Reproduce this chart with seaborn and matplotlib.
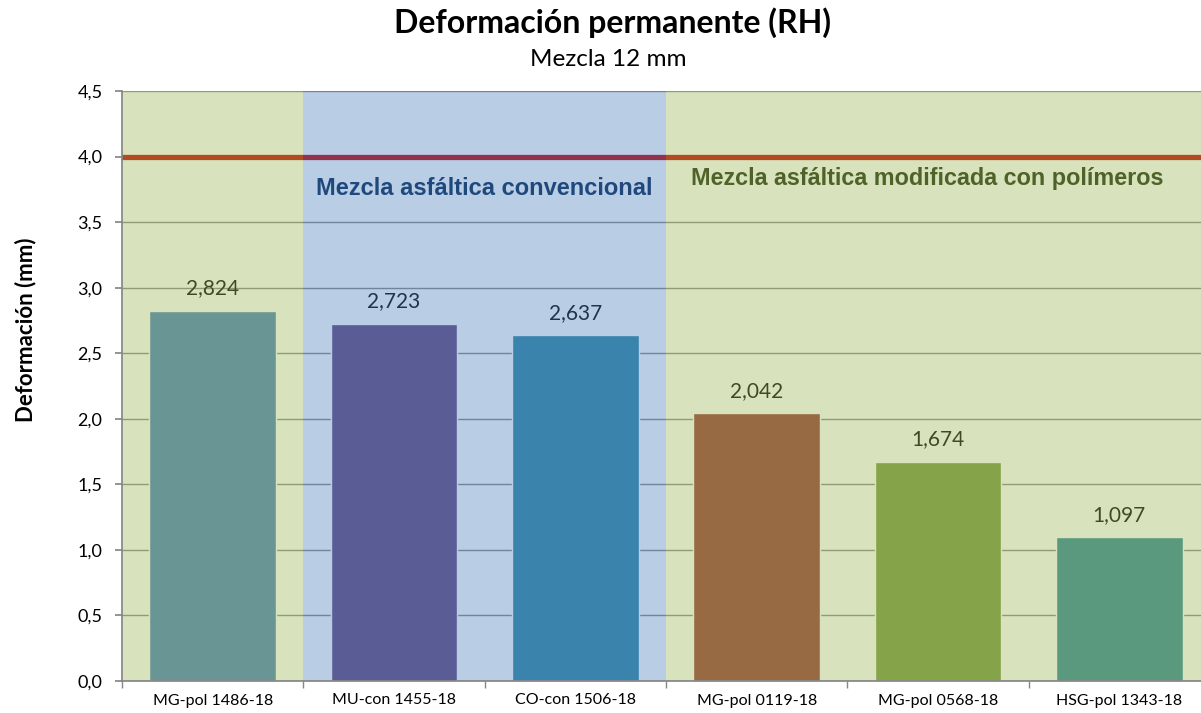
import matplotlib
matplotlib.use('Agg')
import matplotlib.pyplot as plt
import seaborn as sns
from matplotlib.ticker import FuncFormatter, FixedLocator

# data
samples = ['MG-pol 1486-18', 'MU-con 1455-18', 'CO-con 1506-18',
           'MG-pol 0119-18', 'MG-pol 0568-18', 'HSG-pol 1343-18']
deformation = [2.824, 2.723, 2.637, 2.042, 1.674, 1.097]
limit_value = 4.0
groups = ['pol', 'con', 'con', 'pol', 'pol', 'pol']
group_titles = {'con': 'Mezcla asfáltica convencional',
                'pol': 'Mezcla asfáltica modificada con polímeros'}

# bar colours before the translucent group overlay is applied
bar_colors = ['#477EBB', '#61467A', '#2B84A2', '#933534', '#76943E', '#2D8496']
group_fill = {'con': '#5082BE', 'pol': '#9EBB5A'}
group_text = {'con': '#1F497D', 'pol': '#4F6228'}

sns.set_theme(style='white')
plt.rcParams['font.family'] = ['Lato', 'DejaVu Sans']
plt.rcParams['text.color'] = 'black'
plt.rcParams['axes.labelcolor'] = 'black'

fig = plt.figure(figsize=(12.01, 7.13), dpi=100)
ax = fig.add_axes([122 / 1201, 32 / 713, 1088 / 1201, 590 / 713])

sns.barplot(x=samples, y=deformation, hue=samples, palette=bar_colors,
            legend=False, saturation=1, width=0.7, ax=ax, zorder=2)

ax.set_xlim(-0.5, len(samples) - 0.5)
ax.set_ylim(0, 4.5)

# gridlines
ax.yaxis.set_major_locator(FixedLocator([i * 0.5 for i in range(10)]))
ax.yaxis.set_major_formatter(FuncFormatter(lambda v, p: f'{v:.1f}'.replace('.', ',')))
ax.grid(axis='y', color='#868686', lw=1, zorder=1)
ax.set_axisbelow(True)

# limit line
ax.axhline(limit_value, color='#C00000', lw=3.8, zorder=2.5)

# value labels
for c in ax.containers:
    ax.bar_label(c, labels=[f'{v:.3f}'.replace('.', ',') for v in c.datavalues],
                 padding=9, fontsize=15, color='black', zorder=2.5)

# translucent group bands on top
start = 0
for i in range(1, len(groups) + 1):
    if i == len(groups) or groups[i] != groups[start]:
        g = groups[start]
        ax.axvspan(start - 0.5, i - 0.5, color=group_fill[g], alpha=0.4,
                   lw=0, zorder=3)
        start = i

# group captions
ax.text(1.5, 3.76, group_titles['con'], ha='center', va='center',
        fontsize=17, fontweight='bold', color=group_text['con'],
        family='Liberation Sans', zorder=4)
ax.text(3.94, 3.83, group_titles['pol'], ha='center', va='center',
        fontsize=16.8, fontweight='bold', color=group_text['pol'],
        family='Liberation Sans', zorder=4)

# axes styling
for s in ['top', 'right']:
    ax.spines[s].set_visible(False)
for s in ['left', 'bottom']:
    ax.spines[s].set_color('#868686')
    ax.spines[s].set_zorder(5)
ax.xaxis.set_minor_locator(FixedLocator([i - 0.5 for i in range(len(samples) + 1)]))
ax.tick_params(axis='x', which='major', length=0, labelsize=11.5, pad=9,
               labelcolor='black')
ax.tick_params(axis='x', which='minor', length=5, color='#868686', bottom=True)
ax.tick_params(axis='y', length=5, color='#868686', labelsize=13, pad=9,
               left=True, labelcolor='black')
ax.set_xlabel('')
ax.set_ylabel('Deformación (mm)', fontsize=16, fontweight='bold')
ax.yaxis.set_label_coords(-86 / 1088, (681 - 330) / 590)

fig.text(612 / 1201, 1 - 33 / 713, 'Deformación permanente (RH)', ha='center',
         va='baseline', fontsize=23, fontweight='bold')
fig.text(608 / 1201, 1 - 66 / 713, 'Mezcla 12 mm', ha='center', va='baseline',
         fontsize=17.5)

fig.savefig('out.png', dpi=100)
